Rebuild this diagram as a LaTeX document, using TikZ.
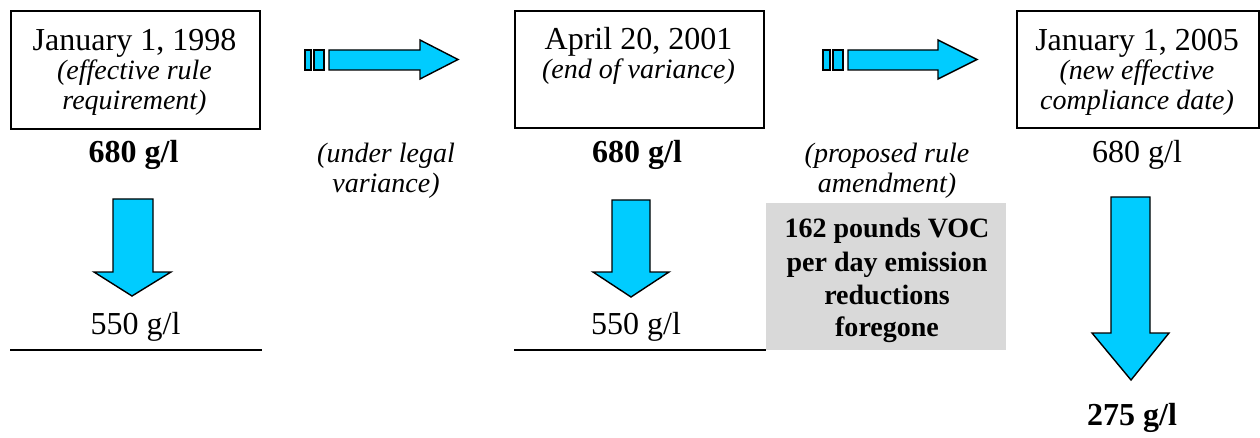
\documentclass[tikz,border=0pt]{standalone}
\usepackage{fontspec}
\setmainfont{Liberation Serif}
\definecolor{arrowcyan}{HTML}{00CCFF}
\definecolor{boxgray}{HTML}{D9D9D9}
\begin{document}
\begin{tikzpicture}[x=1pt,y=-1pt,
  datebox/.style={draw, line width=2.2pt, inner sep=0pt, anchor=north west},
  bigtxt/.style={font=\fontsize{32}{36}\selectfont, anchor=base, inner sep=0pt},
  boldtxt/.style={font=\fontsize{32}{36}\selectfont\bfseries, anchor=base, inner sep=0pt},
  itatxt/.style={font=\fontsize{28}{31}\selectfont\itshape, anchor=base, inner sep=0pt},
  graytxt/.style={font=\fontsize{28}{31}\selectfont\bfseries, anchor=base, inner sep=0pt},
  blockarrow/.style={fill=arrowcyan, draw=black, line width=1.4pt, line join=miter},
  rule/.style={line width=2.2pt}]
\useasboundingbox (0,0) rectangle (1260,438);

% date boxes
\node[datebox, minimum width=249pt, minimum height=118pt] (b1) at (10,10) {};
\node[datebox, minimum width=249pt, minimum height=117pt] (b2) at (514,10) {};
\node[datebox, minimum width=242pt, minimum height=117pt] (b3) at (1016,10) {};

\node[bigtxt] (t1a) at (134.5,51) {January 1, 1998};
\node[itatxt] (t1b) at (134.5,80) {(effective rule};
\node[itatxt] (t1c) at (134.5,110) {requirement)};

\node[bigtxt] (t2a) at (638.5,50) {April 20, 2001};
\node[itatxt] (t2b) at (638.5,79) {(end of variance)};

\node[bigtxt] (t3a) at (1137,51) {January 1, 2005};
\node[itatxt] (t3b) at (1137,80) {(new effective};
\node[itatxt] (t3c) at (1137,110) {compliance date)};

% values
\node[boldtxt] (v1a) at (133.5,163) {680 g/l};
\node[bigtxt] (v1b) at (135.5,334) {550 g/l};
\node[boldtxt] (v2a) at (637,163) {680 g/l};
\node[bigtxt] (v2b) at (636,334) {550 g/l};
\node[bigtxt] (v3a) at (1137,163) {680 g/l};
\node[boldtxt] (v3b) at (1132,425) {275 g/l};

% underlines
\coordinate (l1a) at (10,350);
\coordinate (l1b) at (262,350);
\coordinate (l2a) at (514,350);
\coordinate (l2b) at (766,350);
\draw[rule] (l1a) -- (l1b);
\draw[rule] (l2a) -- (l2b);

% middle labels
\node[itatxt] (m1a) at (386,163) {(under legal};
\node[itatxt] (m1b) at (386,193) {variance)};
\node[itatxt] (m2a) at (887,163) {(proposed rule};
\node[itatxt] (m2b) at (887,193) {amendment)};

% gray box
\node[fill=boxgray, inner sep=0pt, anchor=north west, minimum width=240pt, minimum height=147pt] (g) at (766,203) {};
\node[graytxt] (g1) at (887,238) {162 pounds VOC};
\node[graytxt] (g2) at (887,271) {per day emission};
\node[graytxt] (g3) at (887,304) {reductions};
\node[graytxt] (g4) at (887,336) {foregone};

% horizontal arrows
\draw[blockarrow] (305,50) rectangle (311,70);
\draw[blockarrow] (314,50) rectangle (324,70);
\draw[blockarrow] (329,50) -- (420,50) -- (420,40) -- (458,59.5) -- (420,79) -- (420,70) -- (329,70) -- cycle;

\draw[blockarrow] (823,50) rectangle (830,70);
\draw[blockarrow] (833,50) rectangle (843,70);
\draw[blockarrow] (848,50) -- (938,50) -- (938,40) -- (977,59.5) -- (938,79) -- (938,70) -- (848,70) -- cycle;

% down arrows
\draw[blockarrow] (113,199) -- (153,199) -- (153,272) -- (171,272) -- (132,296) -- (94,272) -- (113,272) -- cycle;
\draw[blockarrow] (612,200) -- (650,200) -- (650,272) -- (669,272) -- (631,297) -- (593,272) -- (612,272) -- cycle;
\draw[blockarrow] (1111,197) -- (1150,197) -- (1150,333) -- (1169,333) -- (1131,380) -- (1092,333) -- (1111,333) -- cycle;
\end{tikzpicture}
\end{document}
